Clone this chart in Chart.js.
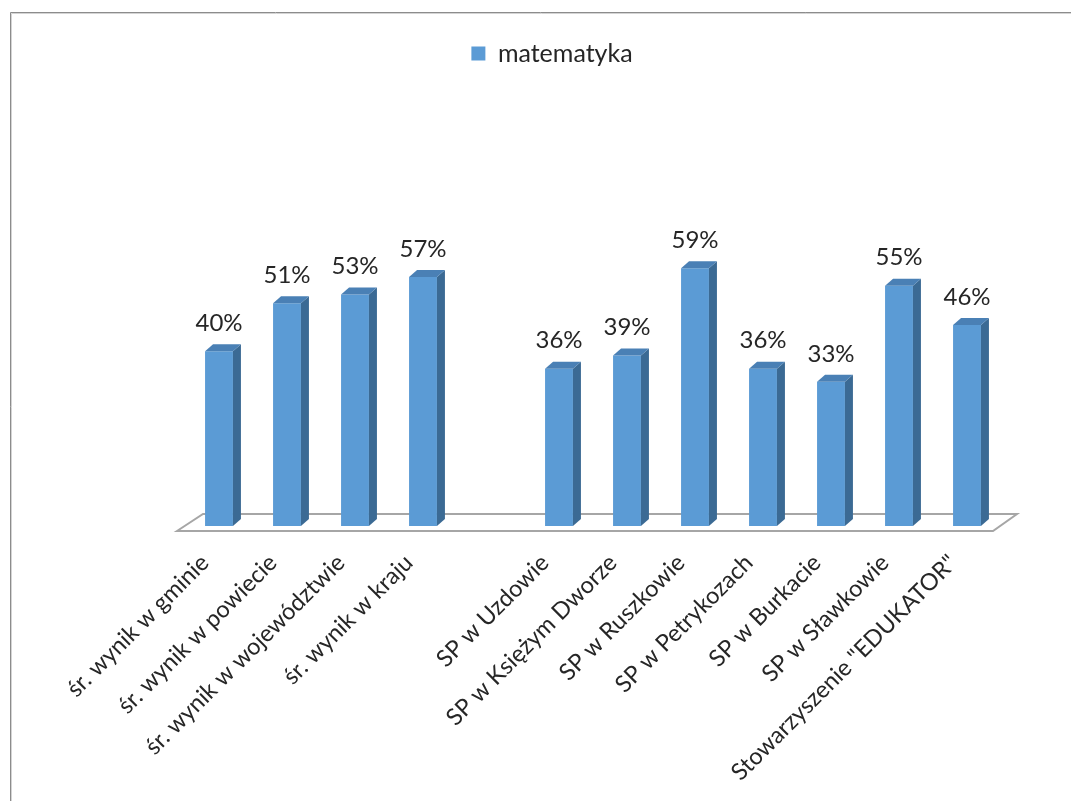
<!DOCTYPE html>
<html>
<head>
<meta charset="utf-8">
<script src="https://cdn.jsdelivr.net/npm/chart.js@4/dist/chart.umd.min.js"></script>
<style>
  html, body { margin: 0; padding: 0; background: #fff; }
  #wrap { width: 1071px; height: 801px; position: relative; }
</style>
</head>
<body>
<div id="wrap"><canvas id="chartWynik" width="1071" height="801"></canvas></div>
<script>
// dane z wykresu (pusta kategoria = przerwa miedzy grupami)
const kategorie = [
    'śr. wynik w gminie', 'śr. wynik w powiecie', 'śr. wynik w województwie', 'śr. wynik w kraju',
    '',
    'SP w Uzdowie', 'SP w Księżym Dworze', 'SP w Ruszkowie', 'SP w Petrykozach',
    'SP w Burkacie', 'SP w Sławkowie', 'Stowarzyszenie "EDUKATOR"'
];
const wyniki = [40, 51, 53, 57, null, 36, 39, 59, 36, 33, 55, 46];
const nazwaSerii = 'matematyka';

const kolorPrzod = '#5b9bd5';
const kolorBok = '#3b6a94';
const kolorGora = '#4a80b5';
const glebX = 8, glebY = 7;

// ramka, podloga 3D
const tloPlugin = {
    id: 'tlo',
    beforeDraw(chart) {
        const c = chart.ctx;
        c.save();
        c.fillStyle = '#fff';
        c.fillRect(0, 0, chart.width, chart.height);
        c.strokeStyle = '#8c8c8c';
        c.lineWidth = 1;
        c.beginPath();
        c.moveTo(10.5, chart.height);
        c.lineTo(10.5, 12.5);
        c.lineTo(chart.width, 12.5);
        c.stroke();
        c.strokeStyle = '#d4d4d4';
        c.beginPath();
        c.moveTo(11.5, chart.height);
        c.lineTo(11.5, 13.5);
        c.lineTo(chart.width, 13.5);
        c.stroke();
        c.restore();
    },
    beforeDatasetsDraw(chart) {
        const c = chart.ctx;
        const x = chart.scales.x;
        const y0 = chart.scales.y.getPixelForValue(0);
        c.save();
        c.strokeStyle = '#a6a6a6';
        c.lineWidth = 2;
        c.fillStyle = '#fff';
        c.beginPath();
        c.moveTo(x.left - 8, y0 + 5);
        c.lineTo(x.left + 18, y0 - 12);
        c.lineTo(x.right + 16, y0 - 12);
        c.lineTo(x.right - 8, y0 + 5);
        c.closePath();
        c.fill();
        c.stroke();
        c.restore();
    },
    afterDatasetsDraw(chart) {
        const c = chart.ctx;
        const meta = chart.getDatasetMeta(0);
        c.save();
        meta.data.forEach(function(bar, i) {
            if (wyniki[i] === null) return;
            const p = bar.getProps(['x', 'y', 'base', 'width'], true);
            const l = p.x - p.width / 2, r = p.x + p.width / 2;
            // bok
            c.fillStyle = kolorBok;
            c.beginPath();
            c.moveTo(r, p.y);
            c.lineTo(r + glebX, p.y - glebY);
            c.lineTo(r + glebX, p.base - glebY);
            c.lineTo(r, p.base);
            c.closePath();
            c.fill();
            // gora
            c.fillStyle = kolorGora;
            c.beginPath();
            c.moveTo(l, p.y);
            c.lineTo(l + glebX, p.y - glebY);
            c.lineTo(r + glebX, p.y - glebY);
            c.lineTo(r, p.y);
            c.closePath();
            c.fill();
            // etykieta
            c.fillStyle = '#262626';
            c.font = '24px Lato';
            c.textAlign = 'center';
            c.textBaseline = 'middle';
            c.fillText(wyniki[i] + '%', p.x, p.y - 28);
        });
        c.restore();
    }
};

new Chart(document.getElementById('chartWynik'), {
    type: 'bar',
    data: {
        labels: kategorie,
        datasets: [{
            label: nazwaSerii,
            data: wyniki,
            backgroundColor: kolorPrzod,
            borderWidth: 0,
            categoryPercentage: 1,
            barPercentage: 0.41
        }]
    },
    options: {
        responsive: false,
        animation: false,
        layout: { padding: { left: 103, right: 70, top: 31, bottom: 0 } },
        plugins: {
            legend: {
                position: 'top',
                labels: {
                    boxWidth: 14,
                    boxHeight: 14,
                    padding: 10,
                    color: '#262626',
                    font: { family: 'Lato', size: 25 }
                }
            },
            tooltip: { enabled: false }
        },
        scales: {
            x: {
                grid: { display: false },
                border: { display: false },
                ticks: {
                    autoSkip: false,
                    minRotation: 45,
                    maxRotation: 45,
                    padding: 15,
                    labelOffset: -14,
                    color: '#262626',
                    font: { family: 'Lato', size: 23.5 }
                },
                afterFit(s) {
                    s.height = 275;
                    s.paddingLeft = 0;
                    s.paddingRight = 0;
                }
            },
            y: {
                min: 0,
                max: 103,
                grid: { display: false },
                border: { display: false },
                ticks: { display: false },
                afterFit(s) { s.width = 82; }
            }
        }
    },
    plugins: [tloPlugin]
});
</script>
</body>
</html>
